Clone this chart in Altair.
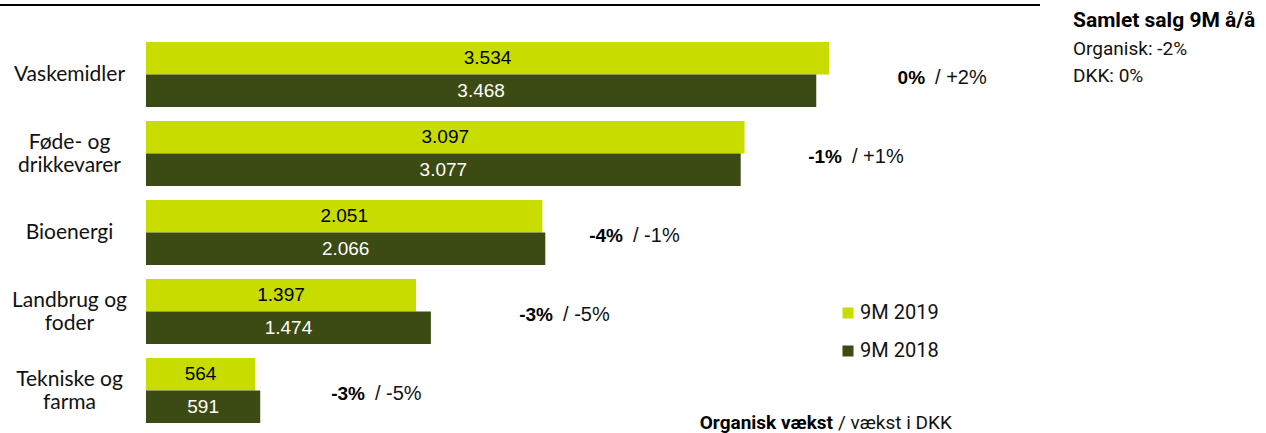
import altair as alt
import pandas as pd

# ---------------- data ----------------
categories = ["Vaskemidler", "Føde- og|drikkevarer", "Bioenergi", "Landbrug og|foder", "Tekniske og|farma"]
series_order = ["9M 2019", "9M 2018"]
sales_2019 = [3534, 3097, 2051, 1397, 564]
sales_2018 = [3468, 3077, 2066, 1474, 591]
organic_growth = ["0%", "-1%", "-4%", "-3%", "-3%"]
dkk_growth = ["+2%", "+1%", "-1%", "-5%", "-5%"]
total_title = "Samlet salg 9M å/å"
total_lines = ["Organisk: -2%", "DKK: 0%"]
footer_bold = "Organisk vækst"
footer_rest = "/ vækst i DKK"

# layout (data-unit anchor where each growth label's bold part ends)
growth_anchor = [4031, 3601, 2468, 2106, 1133]

LIME = "#C8DC00"
OLIVE = "#3C4A14"
CAT_FONT = "Lato"
NUM_FONT = "Liberation Sans"
SIDE_FONT = "Roboto"

rows = []
for c, a, b in zip(categories, sales_2019, sales_2018):
    rows.append({"category": c, "series": "9M 2019", "value": a})
    rows.append({"category": c, "series": "9M 2018", "value": b})
df = pd.DataFrame(rows)

gdf = pd.DataFrame({"category": categories, "org": organic_growth,
                    "dkk": dkk_growth, "anchor": growth_anchor})

PLOT_W = 1120
PLOT_H = 395
XMAX = PLOT_W / 0.19327

y_enc = alt.Y(
    "category:N",
    sort=categories,
    scale=alt.Scale(domain=categories, paddingInner=0.177, paddingOuter=0.0885),
    axis=alt.Axis(
        title=None, ticks=False, tickSize=0, domain=False, grid=False,
        labelExpr="split(datum.label, '|')",
        labelAlign="center", labelBaseline="middle", labelPadding=77,
        labelOffset=alt.ExprRef("indexof(datum.value, '|') >= 0 ? -11 : 0"),
        labelFont=CAT_FONT, labelFontSize=21, labelLineHeight=23,
        labelColor="#111111", labelLimit=300,
    ),
)
x_scale = alt.Scale(domain=[0, XMAX], nice=False, zero=True)
yoff = alt.YOffset("series:N", sort=series_order, scale=alt.Scale(domain=series_order))

bars = alt.Chart(df).mark_bar().encode(
    x=alt.X("value:Q", scale=x_scale, axis=None),
    y=y_enc,
    yOffset=yoff,
    color=alt.Color(
        "series:N",
        scale=alt.Scale(domain=series_order, range=[LIME, OLIVE]),
        legend=alt.Legend(
            orient="none", legendX=692, legendY=268, title=None, padding=0,
            symbolType="square", symbolSize=121, symbolStrokeWidth=0,
            labelFont=SIDE_FONT, labelFontSize=20, labelColor="#111111",
            rowPadding=18, labelOffset=2,
        ),
    ),
)

values = alt.Chart(df).transform_calculate(
    mid="datum.value / 2",
    label="replace(format(datum.value, ','), ',', '.')",
).mark_text(font=NUM_FONT, fontSize=19, baseline="middle", align="center").encode(
    x=alt.X("mid:Q", scale=x_scale, axis=None),
    y=y_enc,
    yOffset=yoff,
    text="label:N",
    color=alt.condition(alt.datum.series == "9M 2019", alt.value("#000000"), alt.value("#ffffff")),
)

g_bold = alt.Chart(gdf).mark_text(
    font=NUM_FONT, fontSize=19, fontWeight="bold", align="right", baseline="middle", dy=3, color="#000000"
).encode(x=alt.X("anchor:Q", scale=x_scale, axis=None), y=y_enc, text="org:N")

g_rest = alt.Chart(gdf).transform_calculate(t="'/ ' + datum.dkk").mark_text(
    font=NUM_FONT, fontSize=20, align="left", baseline="middle", dx=10, dy=3, color="#111111"
).encode(x=alt.X("anchor:Q", scale=x_scale, axis=None), y=y_enc, text="t:N")

one = pd.DataFrame({"k": [0]})

top_rule = alt.Chart(one).mark_rule(color="#000000", strokeWidth=2.2).encode(
    x=alt.value(-146), x2=alt.value(894), y=alt.value(-30)
)

note_title = alt.Chart(one).mark_text(
    font=SIDE_FONT, fontSize=21, fontWeight="bold", align="left", baseline="middle", color="#000000"
).encode(x=alt.value(927), y=alt.value(-14), text=alt.value(total_title))

note_l1 = alt.Chart(one).mark_text(
    font=SIDE_FONT, fontSize=19, align="left", baseline="middle", color="#111111"
).encode(x=alt.value(927), y=alt.value(14), text=alt.value(total_lines[0]))

note_l2 = alt.Chart(one).mark_text(
    font=SIDE_FONT, fontSize=19, align="left", baseline="middle", color="#111111"
).encode(x=alt.value(927), y=alt.value(41), text=alt.value(total_lines[1]))

foot_b = alt.Chart(one).mark_text(
    font=SIDE_FONT, fontSize=19, fontWeight="bold", align="right", baseline="middle", color="#000000"
).encode(x=alt.value(687), y=alt.value(388), text=alt.value(footer_bold))

foot_r = alt.Chart(one).mark_text(
    font=SIDE_FONT, fontSize=19, align="left", baseline="middle", dx=5, color="#111111"
).encode(x=alt.value(687), y=alt.value(388), text=alt.value(footer_rest))

chart = alt.layer(
    bars, values, g_bold, g_rest, top_rule, note_title, note_l1, note_l2, foot_b, foot_r
).properties(
    width=PLOT_W, height=PLOT_H,
    autosize=alt.AutoSizeParams(type="none"),
    padding={"left": 146, "top": 35, "right": 0, "bottom": 3},
    background="#ffffff",
).configure_view(stroke=None)

chart.save("out.html", embed_options={"renderer": "svg", "actions": False})
